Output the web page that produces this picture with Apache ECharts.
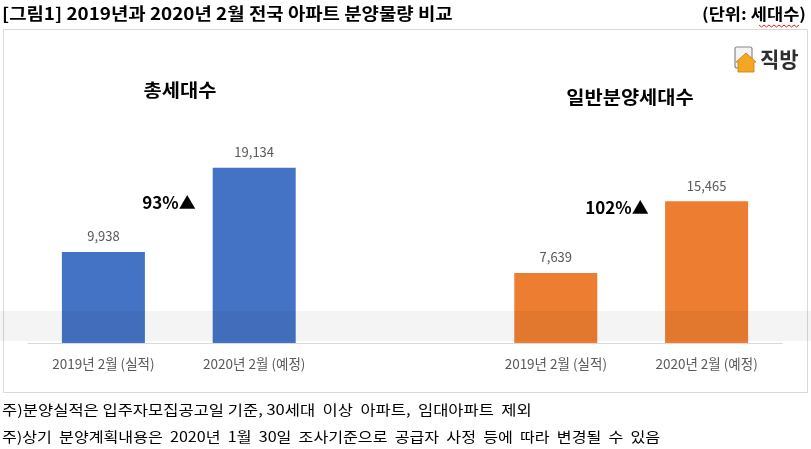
<!DOCTYPE html>
<html><head><meta charset="utf-8">
<script src="https://cdn.jsdelivr.net/npm/echarts@6/dist/echarts.min.js"></script>
<style>html,body{margin:0;padding:0;background:#fff}#c{width:811px;height:449px}</style>
</head><body><div id="c"></div>
<script>
const categories = ['2019년 2월 (실적)', '2020년 2월 (예정)', '', '2019년 2월 (실적)', '2020년 2월 (예정)'];
const totalUnits = [9938, 19134, '-', '-', '-'];
const generalUnits = ['-', '-', '-', 7639, 15465];
const groupTitles = ['총세대수', '일반분양세대수'];
const changeLabels = ['93%▲', '102%▲'];
const chartTitle = '[그림1] 2019년과 2020년 2월 전국 아파트 분양물량 비교';
const unitText = '(단위: 세대수)';
const notes = ['주)분양실적은 입주자모집공고일 기준, 30세대  이상  아파트,  임대아파트  제외',
               '주)상기  분양계획내용은  2020년  1월  30일  조사기준으로  공급자  사정  등에  따라  변경될  수  있음'];

const F = '"Noto Sans CJK KR", "Noto Sans", sans-serif';
const chart = echarts.init(document.getElementById('c'), null, {renderer: 'canvas'});

// wavy underline points
const wave = [];
for (let i = 0; i <= 16; i++) wave.push([759 + i * 2.5, 25 + (i % 2 ? 2 : 0)]);

function txt(x, y, text, font, opts) {
  return Object.assign({type: 'text', x: x, y: y, style: Object.assign({x: 0, y: 0, text: text, font: font, fill: '#000', verticalAlign: 'middle'}, (opts && opts.style) || {})},
    opts && opts.scaleX ? {scaleX: opts.scaleX} : {});
}

chart.setOption({
  animation: false,
  textStyle: {fontFamily: F},
  grid: {left: 28, right: 29, top: 114, bottom: 106},
  xAxis: {
    type: 'category', data: categories,
    axisLine: {lineStyle: {color: '#d9d9d9', width: 1}},
    axisTick: {show: false},
    axisLabel: {color: '#595959', fontSize: 13.5, margin: 14, fontFamily: F, interval: 0}
  },
  yAxis: {type: 'value', min: 0, max: 25000, show: false, splitLine: {show: false}},
  series: [
    {type: 'bar', data: totalUnits, barWidth: 83, barGap: '-100%',
     itemStyle: {color: '#4472C4'},
     label: {show: true, position: 'top', distance: 9, color: '#595959', fontSize: 13,
             formatter: p => p.value.toLocaleString('en-US')}},
    {type: 'bar', data: generalUnits, barWidth: 83, barGap: '-100%',
     itemStyle: {color: '#ED7D31'},
     label: {show: true, position: 'top', distance: 9, color: '#595959', fontSize: 13,
             formatter: p => p.value.toLocaleString('en-US')}}
  ],
  graphic: [
    {type: 'rect', z: -10, shape: {x: 3.5, y: 29.5, width: 804, height: 363},
     style: {fill: '#fff', stroke: '#d9d9d9', lineWidth: 1}},
    {type: 'rect', z: 100, shape: {x: 0, y: 311, width: 811, height: 30},
     style: {fill: 'rgba(0,0,0,0.045)'}},
    txt(2, 14, chartTitle, 'bold 17px ' + F, {scaleX: 1.11}),
    txt(806, 14, unitText, 'bold 16px ' + F, {scaleX: 1.1, style: {align: 'right'}}),
    {type: 'polyline', shape: {points: wave}, style: {stroke: '#e02020', lineWidth: 1, fill: null}},
    txt(180, 90, groupTitles[0], 'bold 18px ' + F, {scaleX: 1.1, style: {align: 'center'}}),
    txt(630, 97, groupTitles[1], 'bold 18px ' + F, {scaleX: 1.1, style: {align: 'center'}}),
    txt(169, 203, changeLabels[0], 'bold 17px ' + F, {style: {align: 'center'}}),
    txt(617, 208, changeLabels[1], 'bold 17px ' + F, {style: {align: 'center'}}),
    // logo
    {type: 'rect', shape: {x: 735, y: 47, width: 17, height: 21, r: 2}, style: {fill: '#f4f4f4', stroke: '#888', lineWidth: 1.2}},
    {type: 'polygon', shape: {points: [[736, 62], [746, 53], [756, 62], [754, 62], [754, 72], [738, 72], [738, 62]]}, style: {fill: '#F5A623', stroke: '#c47d0e', lineWidth: 0.8}},
    txt(760, 59, '직방', 'bold 21px ' + F, {style: {fill: '#2e2e2e'}}),
    txt(2, 410, notes[0], '14px ' + F, {scaleX: 1.18}),
    txt(2, 437, notes[1], '14px ' + F, {scaleX: 1.15})
  ]
});
</script></body></html>
